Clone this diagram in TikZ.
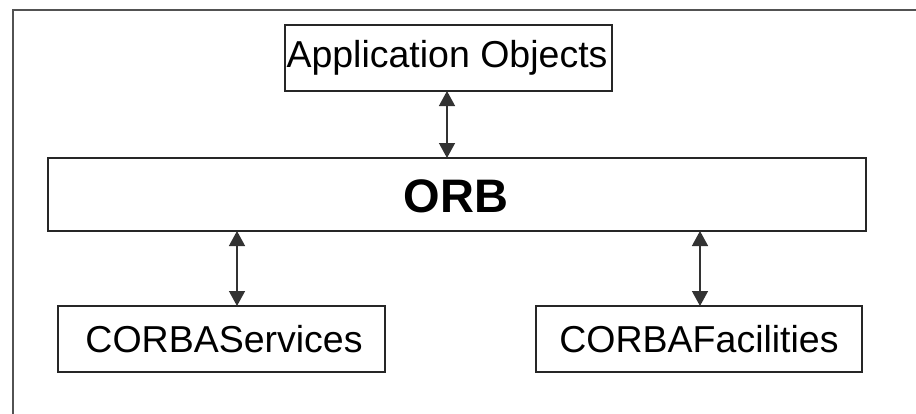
\documentclass[tikz,border=0pt]{standalone}
\usepackage{fontspec}
\setmainfont{Liberation Sans}
\usetikzlibrary{arrows.meta}
\begin{document}
\begin{tikzpicture}[x=1pt,y=-1pt,
  boxst/.style={draw=black!85,line width=1.3pt},
  conn/.style={draw=black!80,line width=1.4pt,{Triangle[width=16pt,length=15pt]}-{Triangle[width=16pt,length=15pt]}},
  lbl/.style={font=\fontsize{37.5}{41}\selectfont,inner sep=0pt}]
\useasboundingbox (0,0) rectangle (916,413);
\draw[draw=black!68,line width=2.2pt] (13,425) -- (13,10) -- (930,10);
% boxes
\draw[boxst] (285,25) rectangle (612,91);
\coordinate (aoB) at (447,91);
\node[lbl] (ao) at (447,58) {Application Objects};
\draw[boxst] (48,158) rectangle (866,231);
\node[font=\fontsize{47}{51}\selectfont\bfseries,inner sep=0pt] (orb) at (456,196) {ORB};
\coordinate (orbT) at (447,158);
\coordinate (orbL) at (237,231);
\coordinate (orbR) at (700,231);
\draw[boxst] (58,306) rectangle (385,372);
\node[lbl] (cs) at (224,339) {CORBAServices};
\coordinate (csT) at (237,306);
\draw[boxst] (536,306) rectangle (862,372);
\node[lbl] (cf) at (699,339) {CORBAFacilities};
\coordinate (cfT) at (700,306);
% connectors
\draw[conn] (aoB) -- (orbT);
\draw[conn] (orbL) -- (csT);
\draw[conn] (orbR) -- (cfT);
\end{tikzpicture}
\end{document}
